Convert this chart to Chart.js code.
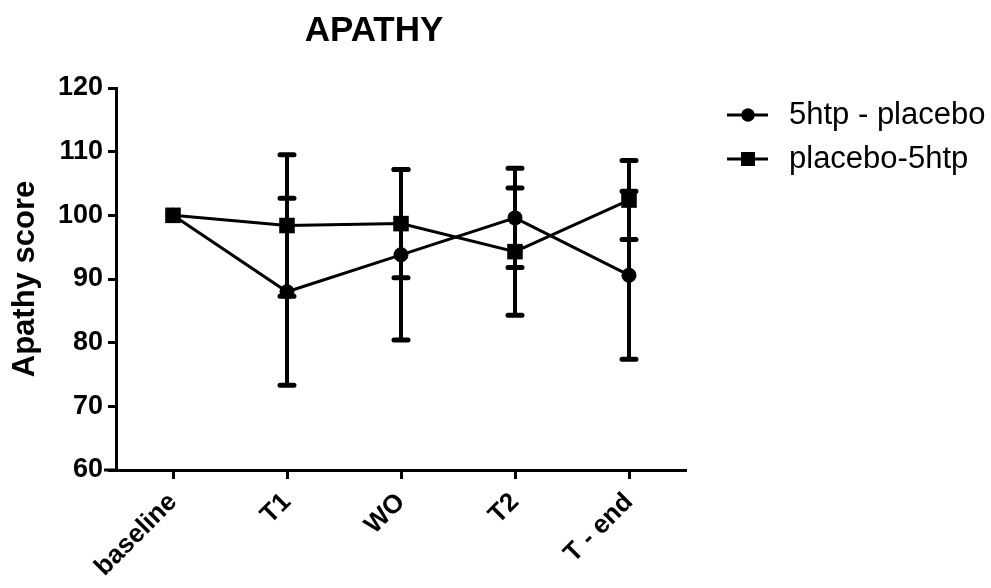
<!DOCTYPE html>
<html>
<head>
<meta charset="utf-8">
<script src="https://cdn.jsdelivr.net/npm/chart.js@4.4.0/dist/chart.umd.min.js"></script>
<style>
  html, body { margin: 0; padding: 0; background: #fff; }
  #wrap { width: 991px; height: 588px; position: relative; }
</style>
</head>
<body>
<div id="wrap"><canvas id="apathy"></canvas></div>
<script>
// data
const timepoints = ['baseline', 'T1', 'WO', 'T2', 'T - end'];
const htpPlaceboMean = [100, 88.0, 93.8, 99.6, 90.6];
const htpPlaceboErr  = [0, 14.7, 13.4, 7.8, 13.2];
const placeboHtpMean = [100, 98.4, 98.7, 94.3, 102.4];
const placeboHtpErr  = [0, 11.1, 8.5, 10.0, 6.2];
const yTicks = [60, 70, 80, 90, 100, 110, 120];

const FONT = 'Arial, "Liberation Sans", sans-serif';

// error bars with caps, drawn from the dataset's own error list
const errorBars = {
    id: 'errorBars',
    beforeDatasetsDraw(chart) {
        const ctx = chart.ctx;
        const xs = chart.scales.x;
        const ys = chart.scales.y;
        chart.data.datasets.forEach((ds) => {
            ds.errors.forEach((e, i) => {
                if (!e) return;
                const x = xs.getPixelForValue(i);
                const yTop = ys.getPixelForValue(ds.data[i] + e);
                const yBot = ys.getPixelForValue(ds.data[i] - e);
                ctx.save();
                ctx.strokeStyle = '#000';
                ctx.lineWidth = 4;
                ctx.lineCap = 'butt';
                ctx.beginPath();
                ctx.moveTo(x, yTop);
                ctx.lineTo(x, yBot);
                ctx.stroke();
                ctx.lineWidth = 5;
                ctx.lineCap = 'round';
                ctx.beginPath();
                ctx.moveTo(x - 7, yTop);
                ctx.lineTo(x + 7, yTop);
                ctx.moveTo(x - 7, yBot);
                ctx.lineTo(x + 7, yBot);
                ctx.stroke();
                ctx.restore();
            });
        });
    }
};

// title sits over the plot + y label, not the whole canvas
// also the little bit of x axis that pokes out left of the y axis
const titlePlugin = {
    id: 'titlePlugin',
    afterDraw(chart) {
        const ctx = chart.ctx;
        const area = chart.chartArea;
        ctx.save();
        ctx.strokeStyle = '#000';
        ctx.lineWidth = 3;
        ctx.beginPath();
        ctx.moveTo(area.left - 12, area.bottom);
        ctx.lineTo(area.left, area.bottom);
        ctx.stroke();
        ctx.fillStyle = '#000';
        ctx.font = 'bold 35px ' + FONT;
        ctx.textAlign = 'center';
        ctx.textBaseline = 'middle';
        ctx.fillText('APATHY', 374, 31);
        ctx.restore();
    }
};

// legend on the right, line + marker + label
const sideLegend = {
    id: 'sideLegend',
    afterDraw(chart) {
        const ctx = chart.ctx;
        chart.data.datasets.forEach((ds, i) => {
            const y = 115 + i * 44;
            ctx.save();
            ctx.strokeStyle = '#000';
            ctx.lineWidth = 3;
            ctx.beginPath();
            ctx.moveTo(727, y);
            ctx.lineTo(768, y);
            ctx.stroke();
            Chart.helpers.drawPoint(ctx, {
                pointStyle: ds.pointStyle,
                radius: ds.pointRadius * 0.9,
                borderWidth: 0
            }, 748, y);
            ctx.fillStyle = '#000';
            ctx.font = '31px ' + FONT;
            ctx.textAlign = 'left';
            ctx.textBaseline = 'middle';
            ctx.fillText(ds.label, 789, y);
            ctx.restore();
        });
    }
};

const ctx = document.getElementById('apathy').getContext('2d');
const apathyChart = new Chart(ctx, {
    type: 'line',
    data: {
        labels: timepoints,
        datasets: [{
            label: '5htp - placebo',
            data: htpPlaceboMean,
            errors: htpPlaceboErr,
            borderColor: '#000',
            backgroundColor: '#000',
            borderWidth: 3,
            pointStyle: 'circle',
            pointRadius: 7.5,
            pointBorderWidth: 0,
            tension: 0
        }, {
            label: 'placebo-5htp',
            data: placeboHtpMean,
            errors: placeboHtpErr,
            borderColor: '#000',
            backgroundColor: '#000',
            borderWidth: 3,
            pointStyle: 'rect',
            pointRadius: 11,
            pointBorderWidth: 0,
            tension: 0
        }]
    },
    options: {
        responsive: true,
        maintainAspectRatio: false,
        animation: false,
        layout: { padding: { left: 0, right: 305, top: 88, bottom: 0 } },
        plugins: {
            legend: { display: false },
            tooltip: { enabled: false },
            title: { display: false }
        },
        scales: {
            x: {
                offset: true,
                border: { display: true, color: '#000', width: 3 },
                grid: {
                    drawOnChartArea: false,
                    color: '#000',
                    tickColor: '#000',
                    tickLength: 9,
                    tickWidth: 3,
                    offset: false
                },
                ticks: {
                    color: '#000',
                    font: { family: FONT, size: 26, weight: 'bold' },
                    minRotation: 45,
                    maxRotation: 45,
                    padding: 8
                },
                afterFit(scale) { scale.height = 118; }
            },
            y: {
                min: yTicks[0],
                max: yTicks[yTicks.length - 1],
                border: { display: true, color: '#000', width: 3 },
                grid: {
                    drawOnChartArea: false,
                    color: '#000',
                    tickColor: '#000',
                    tickLength: 8,
                    tickWidth: 3
                },
                afterBuildTicks(scale) {
                    scale.ticks = yTicks.map(v => ({ value: v }));
                },
                ticks: {
                    color: '#000',
                    font: { family: FONT, size: 27, weight: 'bold' },
                    padding: 5
                },
                title: {
                    display: true,
                    text: 'Apathy score',
                    color: '#000',
                    font: { family: FONT, size: 31, weight: 'bold' },
                    padding: { top: 7, bottom: 0 }
                },
                afterFit(scale) { scale.width = 116; }
            }
        }
    },
    plugins: [errorBars, titlePlugin, sideLegend]
});
</script>
</body>
</html>
